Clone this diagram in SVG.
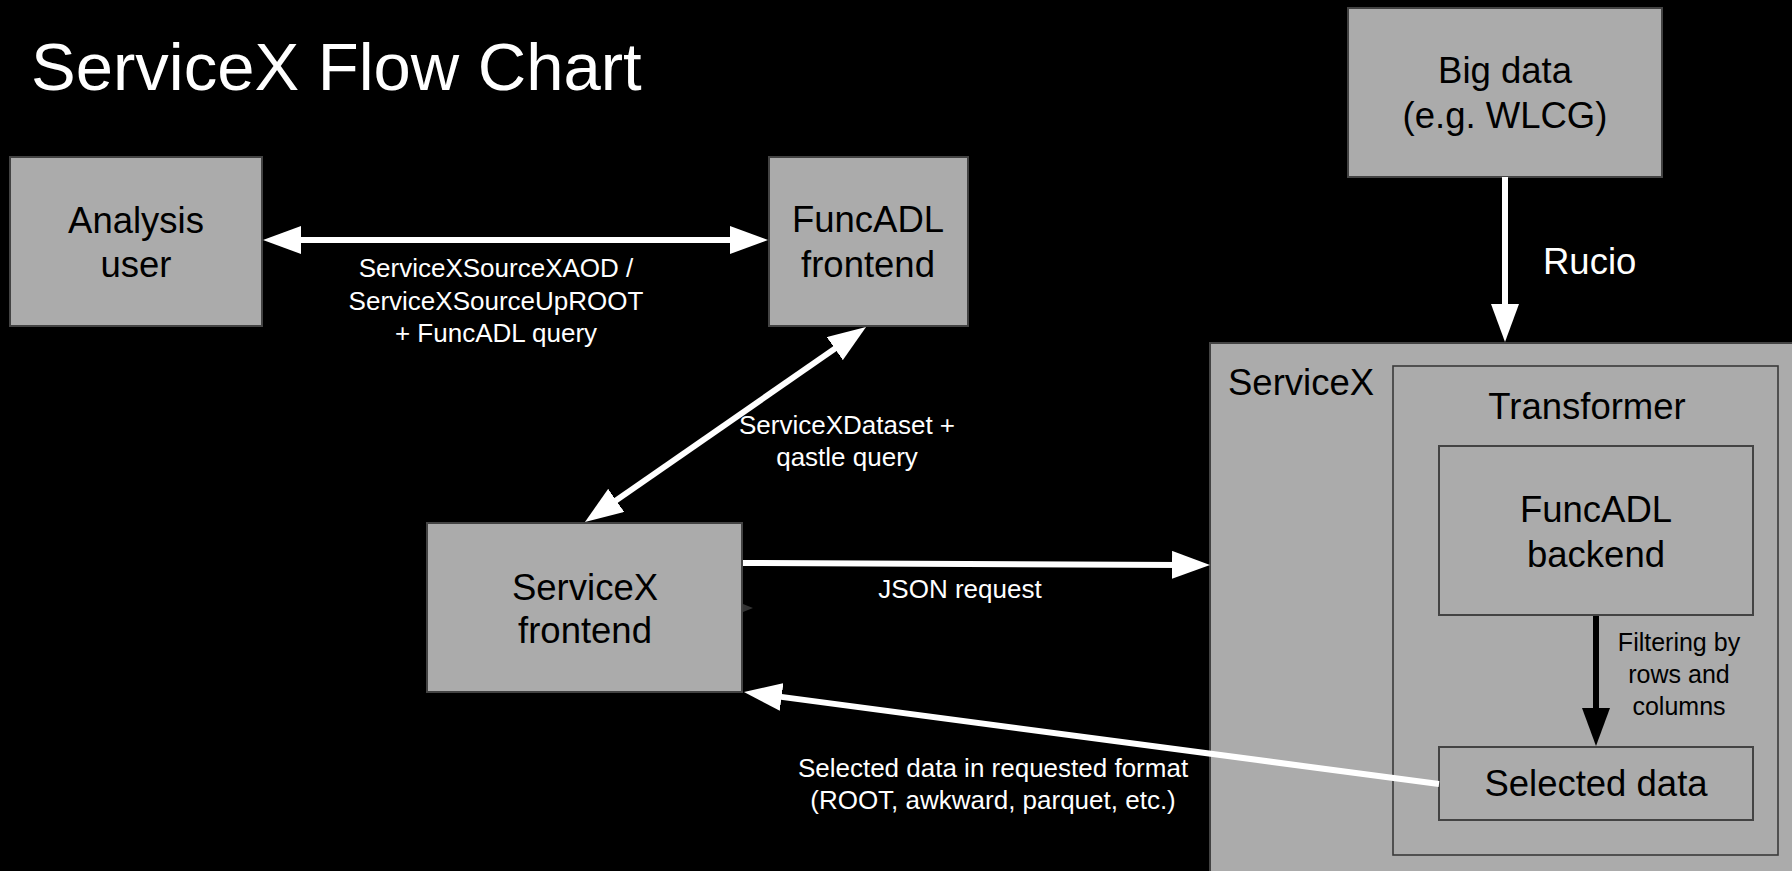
<svg xmlns="http://www.w3.org/2000/svg" width="1792" height="871" viewBox="0 0 1792 871">
<defs>
<style>
.box{fill:#ababab;stroke:#434343;stroke-width:2}
.inner{fill:#ababab;stroke:#3a3a3a;stroke-width:1.6}
.nt{font-family:"Liberation Sans",Arial,sans-serif;font-size:36.5px;fill:#000;text-anchor:middle}
.lbl{font-family:"Liberation Sans",Arial,sans-serif;font-size:26px;fill:#fff;text-anchor:middle}
.wl{stroke:#fff;stroke-width:6;fill:none}
.bl{stroke:#000;stroke-width:6;fill:none}
</style>
<marker id="aw" viewBox="0 0 38 28" refX="8" refY="14" markerWidth="38" markerHeight="28" markerUnits="userSpaceOnUse" orient="auto-start-reverse">
<path d="M0,0 L38,14 L0,28 Z" fill="#fff"/>
</marker>
<marker id="ab" viewBox="0 0 38 28" refX="8" refY="14" markerWidth="38" markerHeight="28" markerUnits="userSpaceOnUse" orient="auto">
<path d="M0,0 L38,14 L0,28 Z" fill="#000"/>
</marker>
</defs>
<rect x="0" y="0" width="1792" height="871" fill="#000"/>
<text x="31" y="90" font-family="Liberation Sans,Arial,sans-serif" font-size="67" fill="#fff">ServiceX Flow Chart</text>

<g id="analysis-user">
<rect class="box" x="10" y="157" width="252" height="169"/>
<text class="nt" x="136" y="233">Analysis</text>
<text class="nt" x="136" y="277">user</text>
</g>
<g id="funcadl-frontend">
<rect class="box" x="769" y="157" width="199" height="169"/>
<text class="nt" x="868" y="232">FuncADL</text>
<text class="nt" x="868" y="277">frontend</text>
</g>
<g id="big-data">
<rect class="box" x="1348" y="8" width="314" height="169"/>
<text class="nt" x="1505" y="83">Big data</text>
<text class="nt" x="1505" y="128">(e.g. WLCG)</text>
</g>
<g id="servicex">
<rect class="box" x="1210" y="343" width="600" height="560"/>
<text x="1228" y="395" font-family="Liberation Sans,Arial,sans-serif" font-size="36.5" fill="#000">ServiceX</text>
</g>
<g id="transformer">
<rect class="inner" x="1393" y="366" width="385" height="489"/>
<text class="nt" x="1587" y="419">Transformer</text>
</g>
<g id="funcadl-backend">
<rect class="box" x="1439" y="446" width="314" height="169"/>
<text class="nt" x="1596" y="522">FuncADL</text>
<text class="nt" x="1596" y="567">backend</text>
</g>
<g id="selected-data">
<rect class="box" x="1439" y="747" width="314" height="73"/>
<text class="nt" x="1596" y="796">Selected data</text>
</g>
<g id="servicex-frontend">
<rect class="box" x="427" y="523" width="315" height="169"/>
<text class="nt" x="585" y="600">ServiceX</text>
<text class="nt" x="585" y="643">frontend</text>
<polygon points="743,604 753,608 743,612" fill="#333"/>
</g>

<g id="connectors">
<line class="wl" x1="293" y1="240" x2="738" y2="240" marker-start="url(#aw)" marker-end="url(#aw)"/>
<line class="wl" x1="841.4" y1="344.1" x2="609.6" y2="504.9" marker-start="url(#aw)" marker-end="url(#aw)"/>
<line class="wl" x1="1505" y1="177" x2="1505" y2="312" marker-end="url(#aw)"/>
<line class="wl" x1="743" y1="563" x2="1180" y2="564.9" marker-end="url(#aw)"/>
<line class="wl" x1="1439" y1="784" x2="773.7" y2="695.9" marker-end="url(#aw)"/>
<line class="bl" x1="1596" y1="616" x2="1596" y2="716" marker-end="url(#ab)"/>
<text class="lbl" x="496" y="277">ServiceXSourceXAOD /</text>
<text class="lbl" x="496" y="310">ServiceXSourceUpROOT</text>
<text class="lbl" x="496" y="342">+ FuncADL query</text>
<text class="lbl" x="847" y="434">ServiceXDataset +</text>
<text class="lbl" x="847" y="466">qastle query</text>
<text class="lbl" x="960" y="598">JSON request</text>
<text class="lbl" x="993" y="777">Selected data in requested format</text>
<text class="lbl" x="993" y="809">(ROOT, awkward, parquet, etc.)</text>
<text x="1543" y="274" font-family="Liberation Sans,Arial,sans-serif" font-size="36.5" fill="#fff">Rucio</text>
<text x="1679" y="651" font-family="Liberation Sans,Arial,sans-serif" font-size="25" fill="#000" text-anchor="middle">Filtering by</text>
<text x="1679" y="683" font-family="Liberation Sans,Arial,sans-serif" font-size="25" fill="#000" text-anchor="middle">rows and</text>
<text x="1679" y="715" font-family="Liberation Sans,Arial,sans-serif" font-size="25" fill="#000" text-anchor="middle">columns</text>
</g>
</svg>
